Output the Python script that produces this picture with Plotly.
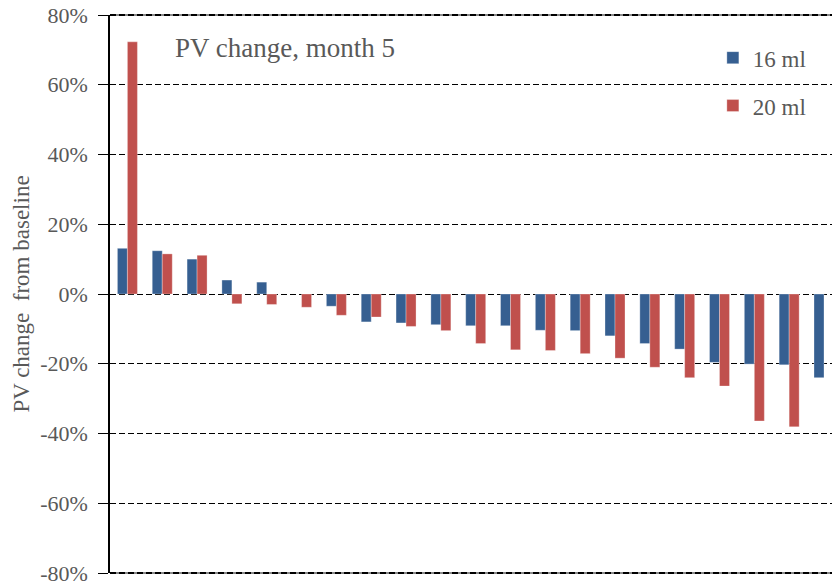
import plotly.graph_objects as go

categories = list(range(1, 22))
vals_16ml = [13.1, 12.4, 10.0, 4.0, 3.4, None, -3.5, -8.0, -8.3, -8.8, -9.1,
             -9.1, -10.4, -10.5, -12.0, -14.2, -15.8, -19.6, -20.1, -20.3, -24.0]
vals_20ml = [72.3, 11.5, 11.1, -2.8, -3.0, -3.8, -6.1, -6.6, -9.3, -10.5, -14.2,
             -16.0, -16.2, -17.1, -18.4, -21.0, -24.0, -26.4, -36.4, -38.1, None]
tick_vals = [-80, -60, -40, -20, 0, 20, 40, 60, 80]
tick_text = [f"{v}%" for v in tick_vals]

FONT = "Liberation Serif"
GRAY = "#595959"
DASH = "6px,3px"

x_idx = list(range(len(categories)))

fig = go.Figure()
fig.add_trace(go.Bar(
    x=x_idx, y=vals_16ml, name="16 ml", legendgroup="a",
    marker=dict(color="#365F91", line=dict(color="rgba(255,255,255,0.5)", width=0.6)),
))
fig.add_trace(go.Bar(
    x=x_idx, y=vals_20ml, name="20 ml", legendgroup="b",
    marker=dict(color="#C0504D", line=dict(color="rgba(255,255,255,0.5)", width=0.6)),
))

fig.update_layout(
    width=832, height=588,
    margin=dict(l=110, r=0, t=15, b=15),
    paper_bgcolor="white", plot_bgcolor="white",
    barmode="group", bargap=0.426, bargroupgap=0,
    font=dict(family=FONT, color=GRAY, size=22),
    showlegend=True,
    legend=dict(
        x=0.835, xanchor="left", y=0.962, yanchor="top",
        font=dict(family=FONT, size=23, color=GRAY),
        tracegroupgap=15, bgcolor="rgba(0,0,0,0)",
    ),
    xaxis=dict(
        range=[-0.5, 20.23], showticklabels=False, ticks="",
        showgrid=False, zeroline=False, showline=False,
    ),
    yaxis=dict(
        range=[-80, 80], tickvals=tick_vals, ticktext=tick_text,
        ticks="outside", ticklen=10, tickcolor="black", tickwidth=1,
        ticklabelstandoff=6, ticklabeloverflow="allow",
        showline=True, linecolor="black", linewidth=1.5,
        showgrid=True, gridcolor="black", gridwidth=1.2, griddash=DASH,
        zeroline=False,
        tickfont=dict(family="Times New Roman, Liberation Serif, serif", size=22, color=GRAY),
        title=dict(text="PV change  from baseline",
                   font=dict(family=FONT, size=23, color=GRAY), standoff=4),
    ),
    annotations=[dict(
        text="PV change, month 5", xref="paper", yref="paper",
        x=0.087, y=0.941, xanchor="left", yanchor="middle", showarrow=False,
        font=dict(family=FONT, size=27, color=GRAY),
    )],
    shapes=[
        dict(type="line", xref="paper", yref="paper", x0=0, x1=1, y0=yv, y1=yv,
             line=dict(color="#8a8a8a", width=2), layer="above")
        for yv in (1, 0)
    ] + [
        dict(type="line", xref="paper", yref="paper", x0=0, x1=1, y0=yv, y1=yv,
             line=dict(color="black", width=2, dash=DASH), layer="above")
        for yv in (1, 0)
    ],
)

fig.write_html(
    "out.html",
    config={"displayModeBar": False},
    post_script="document.body.style.margin='0';",
)
